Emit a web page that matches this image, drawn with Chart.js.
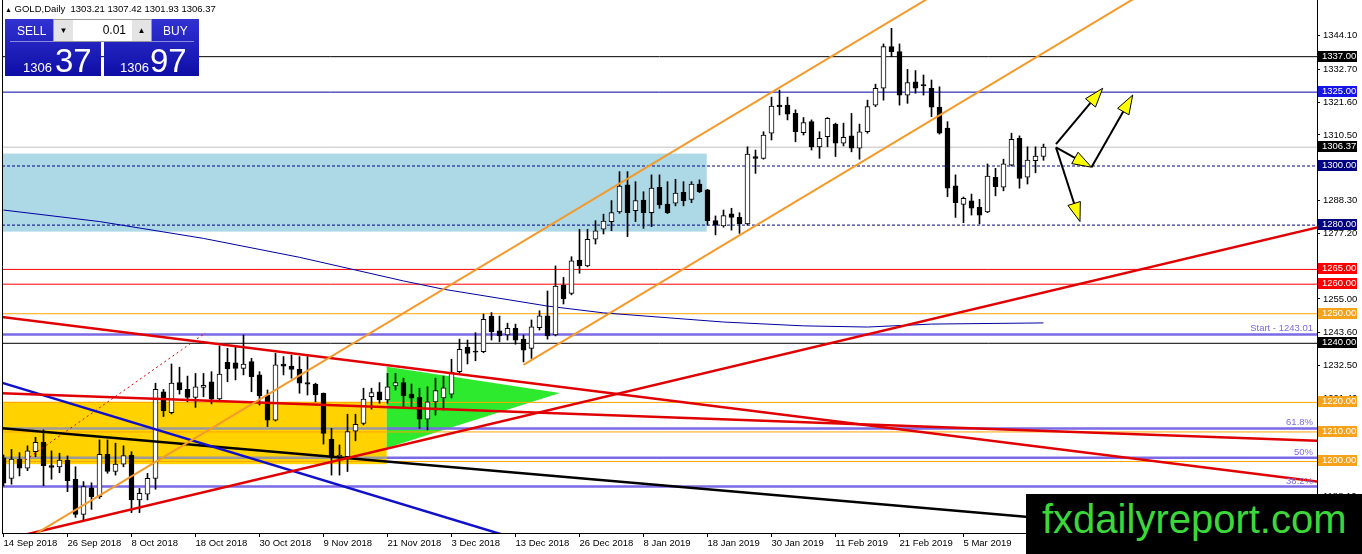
<!DOCTYPE html>
<html>
<head>
<meta charset="utf-8">
<title>GOLD, Daily</title>
<script src="https://cdn.jsdelivr.net/npm/chart.js@4.4.1/dist/chart.umd.min.js"></script>
<style>
  html, body { margin: 0; padding: 0; background: #fff; }
  #wrap { position: relative; width: 1362px; height: 554px; overflow: hidden; font-family: "Liberation Sans", Arial, sans-serif; }
  #chart { position: absolute; left: 0; top: 0; }
  .hdr { position: absolute; left: 5px; top: 3px; font-size: 9.5px; line-height: 12px; color: #000; white-space: pre; }
  .hdr .tri { font-size: 7px; }
  .tbox { position: absolute; top: 19px; width: 96px; height: 57px; background: linear-gradient(to bottom, #3232d2, #0e0ea6); color: #fff; }
  .tbox span { position: absolute; white-space: nowrap; }
  .tbox .lbl { font-size: 12px; line-height: 12px; top: 6px; }
  .tbox .sep { position: absolute; left: 5px; right: 5px; top: 22px; height: 1px; background: #8a8ae0; }
  .tbox .sm { font-size: 13px; line-height: 13px; top: 42px; }
  .tbox .big { font-size: 33px; line-height: 33px; top: 25px; }
  .lot { position: absolute; left: 53px; top: 19px; width: 97px; height: 21px; background: #fff; border: 1px solid #9a9a9a; font-size: 12px; }
  .lot .btn { position: absolute; top: 0; width: 19px; height: 21px; background: #e4e4e4; font-size: 8px; line-height: 21px; text-align: center; color: #000; }
  .lot .val { position: absolute; right: 25px; top: 4px; line-height: 13px; }
  .logo { position: absolute; left: 1026px; top: 494px; width: 336px; height: 60px; background: #000; }
  .logo span { position: absolute; left: 16px; top: 5px; font-size: 40px; line-height: 40px; color: #3cd83a; white-space: nowrap; }
</style>
</head>
<body>
<div id="wrap">
  <canvas id="chart" width="1362" height="554"></canvas>
  <div class="hdr"><span class="tri">▲</span> GOLD,Daily  1303.21 1307.42 1301.93 1306.37</div>
  <div class="tbox" style="left:5px">
    <span class="lbl" style="left:12px">SELL</span><div class="sep"></div>
    <span class="sm" style="left:18px">1306</span><span class="big" style="left:50px">37</span>
  </div>
  <div class="tbox" style="left:104px;width:95px">
    <span class="lbl" style="left:59px">BUY</span><div class="sep"></div>
    <span class="sm" style="left:16px">1306</span><span class="big" style="left:46px">97</span>
  </div>
  <div class="lot">
    <div class="btn" style="left:0">▼</div>
    <span class="val">0.01</span>
    <div class="btn" style="right:0">▲</div>
  </div>
  <div class="logo"><span>fxdailyreport.com</span></div>
</div>
<script>
// x axis labels (every 8th daily bar)
const xTickIdx = [0, 8, 16, 24, 32, 40, 48, 56, 64, 72, 80, 88, 96, 104, 112, 120];
const xTickLabels = ["14 Sep 2018", "26 Sep 2018", "8 Oct 2018", "18 Oct 2018", "30 Oct 2018", "9 Nov 2018",
  "21 Nov 2018", "3 Dec 2018", "13 Dec 2018", "26 Dec 2018", "8 Jan 2019", "18 Jan 2019", "30 Jan 2019",
  "11 Feb 2019", "21 Feb 2019", "5 Mar 2019"];
const priceTicks = [1344.10, 1332.70, 1321.60, 1310.50, 1299.40, 1288.30, 1277.20, 1266.10, 1255.00,
  1243.60, 1232.50, 1221.40, 1210.30, 1199.20, 1188.10];

// daily candles, 14 Sep 2018 .. 19 Mar 2019
const opens = [1201.2, 1194.3, 1200.8, 1197.7, 1203.3, 1206.5, 1198.6, 1198.2, 1200.5, 1194.0,
  1182.1, 1191.1, 1188.1, 1202.4, 1196.6, 1199.1, 1202.2, 1187.0, 1188.9, 1194.3,
  1223.6, 1216.5, 1226.7, 1224.4, 1221.7, 1225.1, 1227.0, 1221.2, 1233.6, 1233.4,
  1231.5, 1233.8, 1229.3, 1222.5, 1214.0, 1233.0, 1232.3, 1231.2, 1226.7, 1226.2,
  1223.1, 1207.5, 1201.4, 1201.6, 1210.3, 1212.9, 1221.9, 1223.6, 1220.8, 1225.6,
  1226.7, 1222.8, 1221.7, 1214.3, 1220.2, 1221.5, 1222.8, 1230.4, 1238.7, 1237.4,
  1237.2, 1249.2, 1244.2, 1242.8, 1245.1, 1241.4, 1238.3, 1245.3, 1249.3, 1242.8,
  1259.7, 1256.9, 1268.2, 1266.2, 1275.2, 1278.6, 1281.2, 1284.5, 1293.6, 1284.9,
  1288.5, 1284.2, 1292.8, 1287.1, 1287.4, 1291.1, 1288.7, 1293.9, 1291.9, 1281.5,
  1279.7, 1283.8, 1282.6, 1280.4, 1303.2, 1302.6, 1311.1, 1320.6, 1320.6, 1317.8,
  1311.3, 1315.0, 1306.5, 1309.9, 1314.2, 1307.7, 1310.2, 1306.0, 1311.6, 1320.6,
  1326.3, 1340.4, 1338.7, 1324.0, 1328.5, 1327.5, 1326.3, 1319.9, 1312.8, 1293.3,
  1287.0, 1288.2, 1286.0, 1284.5, 1296.2, 1292.8, 1300.3, 1309.4, 1296.2, 1301.8,
  1303.21];
const highs = [1202.2, 1204.1, 1203.0, 1205.3, 1208.2, 1210.7, 1203.6, 1202.8, 1201.9, 1198.2,
  1193.2, 1192.8, 1207.3, 1207.3, 1206.2, 1205.3, 1203.3, 1190.9, 1196.0, 1226.5,
  1224.4, 1233.0, 1231.9, 1228.9, 1229.8, 1229.8, 1230.4, 1239.1, 1238.3, 1238.9,
  1242.8, 1234.9, 1230.4, 1224.2, 1236.6, 1235.5, 1236.0, 1235.5, 1235.5, 1226.5,
  1223.2, 1211.2, 1205.6, 1216.0, 1216.0, 1224.8, 1224.8, 1226.7, 1229.8, 1229.8,
  1228.2, 1226.2, 1224.8, 1225.3, 1228.2, 1228.9, 1234.6, 1241.4, 1241.1, 1243.6,
  1249.9, 1250.4, 1249.2, 1246.8, 1246.5, 1242.8, 1247.9, 1251.0, 1257.7, 1266.2,
  1262.3, 1269.3, 1278.6, 1278.6, 1281.5, 1283.7, 1288.3, 1298.1, 1298.1, 1294.7,
  1291.3, 1297.0, 1297.0, 1294.7, 1295.5, 1294.7, 1294.7, 1295.3, 1292.1, 1283.1,
  1285.1, 1285.7, 1284.2, 1306.5, 1305.4, 1311.6, 1323.3, 1325.7, 1323.3, 1319.0,
  1316.4, 1315.6, 1311.6, 1316.4, 1314.5, 1314.5, 1317.8, 1314.2, 1322.3, 1327.7,
  1341.3, 1346.6, 1341.3, 1332.7, 1332.3, 1330.8, 1329.1, 1326.8, 1315.0, 1297.0,
  1289.5, 1290.5, 1288.7, 1300.7, 1299.2, 1302.3, 1311.1, 1310.2, 1306.5, 1306.5,
  1307.42];
const lows = [1191.7, 1192.3, 1195.1, 1196.9, 1201.6, 1191.8, 1194.0, 1196.2, 1189.8, 1181.1,
  1180.2, 1183.8, 1187.5, 1196.0, 1195.4, 1198.2, 1182.7, 1182.7, 1187.0, 1190.6,
  1215.2, 1216.1, 1222.8, 1220.2, 1218.3, 1221.9, 1219.5, 1220.8, 1227.0, 1227.6,
  1229.3, 1223.6, 1219.1, 1211.8, 1213.7, 1229.3, 1228.2, 1223.1, 1222.5, 1220.2,
  1205.9, 1195.4, 1195.4, 1196.6, 1207.0, 1212.4, 1217.7, 1219.7, 1219.7, 1224.2,
  1218.6, 1218.6, 1211.2, 1210.7, 1215.7, 1217.4, 1221.5, 1229.8, 1233.0, 1234.1,
  1236.8, 1241.1, 1240.5, 1241.1, 1239.7, 1233.7, 1234.9, 1244.5, 1241.4, 1242.5,
  1253.3, 1256.4, 1263.7, 1265.9, 1273.6, 1277.0, 1278.1, 1284.0, 1276.1, 1281.2,
  1278.9, 1279.5, 1285.7, 1283.9, 1286.5, 1286.5, 1287.6, 1291.0, 1280.0, 1276.7,
  1279.3, 1278.3, 1277.2, 1280.0, 1297.5, 1302.3, 1308.8, 1317.3, 1315.6, 1308.2,
  1310.5, 1305.4, 1302.6, 1306.5, 1303.2, 1306.8, 1304.8, 1302.3, 1311.1, 1320.1,
  1322.3, 1337.0, 1320.6, 1321.2, 1324.6, 1324.0, 1316.7, 1310.8, 1289.6, 1282.6,
  1280.8, 1283.4, 1280.4, 1284.2, 1289.9, 1291.6, 1300.0, 1292.5, 1293.9, 1297.7,
  1301.93];
const closes = [1192.7, 1200.8, 1197.7, 1203.6, 1206.5, 1198.6, 1198.0, 1200.5, 1193.5, 1182.1,
  1191.5, 1188.1, 1202.4, 1196.6, 1199.1, 1202.0, 1187.0, 1189.2, 1194.3, 1224.4,
  1217.2, 1226.5, 1224.2, 1221.7, 1225.3, 1225.8, 1221.1, 1229.6, 1231.3, 1231.5,
  1233.0, 1228.7, 1222.2, 1214.0, 1232.7, 1232.3, 1231.2, 1226.5, 1226.2, 1222.5,
  1209.5, 1201.6, 1202.2, 1210.1, 1212.6, 1221.1, 1223.3, 1220.8, 1225.3, 1226.7,
  1222.2, 1221.4, 1214.3, 1220.2, 1224.0, 1224.9, 1230.2, 1238.0, 1236.6, 1237.0,
  1248.1, 1243.9, 1242.5, 1245.1, 1241.1, 1237.7, 1245.6, 1249.3, 1242.5, 1259.4,
  1255.0, 1267.9, 1266.2, 1275.2, 1278.1, 1281.4, 1284.2, 1293.2, 1284.2, 1288.3,
  1284.2, 1292.5, 1286.8, 1284.2, 1290.8, 1288.3, 1293.9, 1291.3, 1281.5, 1280.0,
  1283.2, 1282.6, 1280.4, 1304.0, 1302.6, 1310.5, 1320.3, 1320.1, 1317.5, 1311.6,
  1314.7, 1306.5, 1309.4, 1316.1, 1307.7, 1309.7, 1306.0, 1311.6, 1320.1, 1326.3,
  1340.4, 1338.7, 1324.0, 1328.2, 1326.3, 1327.2, 1319.9, 1311.1, 1292.5, 1287.6,
  1289.1, 1285.7, 1283.4, 1296.6, 1293.0, 1300.7, 1309.0, 1295.8, 1302.0, 1303.4,
  1306.37];

// 200-day moving average, read at a few bars
const maIdx = [0, 12, 25, 37, 50, 55, 68, 75, 90, 100, 108, 116, 130];
const maVals = [1285.1, 1281.2, 1275.5, 1269.1, 1261.1, 1258.3, 1252.6, 1250.3, 1247.2, 1245.9, 1245.5, 1246.5, 1246.9];

// horizontal levels
const levelPrices = [1337, 1325, 1306.37, 1265, 1260, 1250, 1240, 1220, 1210, 1200];
const levelColors = ["#000000", "#0000a8", "#c0c0c0", "#ff0000", "#ff0000", "#ffa500", "#000000", "#ffa500", "#ffa500", "#ffa500"];
const dashedLevels = [1300, 1280];
const fibPrices = [1243.01, 1211.2, 1201.3, 1191.5];
const fibNames = ["Start - 1243.01", "61.8%", "50%", "38.2%"];
const axisTags = [1337, 1325, 1306.37, 1300, 1280, 1265, 1260, 1250, 1240, 1220, 1210, 1200];
const axisTagColors = ["#000", "#1515e6", "#000", "#000080", "#000080", "#f00", "#f00", "#f7a21b", "#000", "#f7a21b", "#f7a21b", "#f7a21b"];

// trend lines as [bar0, price0, bar1, price1]
const trendLines = [
  [0, 1169.0, 120, 1363.9],
  [65, 1232.7, 160, 1387.0],
  [-0.5, 1249.0, 164.5, 1193.1],
  [-0.5, 1223.1, 164.5, 1207.0],
  [0, 1173.5, 164.5, 1279.4],
  [-0.5, 1226.9, 70, 1169.0],
  [-0.5, 1211.3, 164.5, 1172.7]
];
const trendColors = ["#f39a2a", "#f39a2a", "#e00000", "#e00000", "#e00000", "#1010c8", "#000000"];
const dottedLine = [2.75, 1200.5, 25.25, 1243.5];

// zones: [bar0, bar1, priceLow, priceHigh]
const blueZone = [-1, 87.9, 1277.8, 1304.2];
const goldZone = [-1, 47.9, 1199.1, 1220.2];
const greenTriangle = [[47.9, 1232.1], [47.9, 1204.6], [69.56, 1223.2]];
// projection arrows [bar0, price0, bar1, price1]
const arrows = [
  [131.56, 1307.4, 137.4, 1326.3],
  [131.56, 1306.3, 134.56, 1281.2],
  [131.56, 1306.3, 136.0, 1299.6],
  [136.0, 1299.6, 141.15, 1324.0]
];

const xMin = -0.1875, xMax = 164.1875;
const yMin = 1175.8, yMax = 1356.18;
const FONT = '"Liberation Sans", Arial, sans-serif';

const bars = opens.map((_, i) => i);
const hline = (v, color, width, dash) => ({
  type: "line", data: [{ x: xMin, y: v }, { x: xMax, y: v }],
  borderColor: color, borderWidth: width, borderDash: dash || [], pointRadius: 0, order: 10
});

const datasets = [];
levelPrices.forEach((v, k) => datasets.push(hline(v, levelColors[k], 1)));
dashedLevels.forEach(v => datasets.push(hline(v, "#000080", 1, [3, 2])));
fibPrices.forEach(v => datasets.push({
  type: "line", data: [{ x: xMin, y: v }, { x: goldZone[1], y: v }, { x: xMax, y: v }],
  borderColor: "#7b6ae6", borderWidth: 2.5, pointRadius: 0, order: 10,
  segment: { borderColor: c => (c.p0DataIndex === 0 && v > goldZone[2] && v < goldZone[3]) ? "#9e9a9a" : undefined }
}));
datasets.push({
  type: "line", data: maIdx.map((v, k) => ({ x: v, y: maVals[k] })),
  borderColor: "#0000a0", borderWidth: 1, pointRadius: 0, order: 9
});
datasets.push({
  type: "bar", data: bars.map(i => ({ x: i, y: [lows[i], highs[i]] })),
  backgroundColor: "#000", borderWidth: 0, barThickness: 1, grouped: false, order: 2
});
datasets.push({
  type: "bar", data: bars.map(i => ({ x: i, y: [opens[i], closes[i]] })),
  backgroundColor: bars.map(i => closes[i] >= opens[i] ? "#fff" : "#000"),
  borderColor: "#000", borderWidth: 1, borderSkipped: false, barThickness: 5,
  minBarLength: 1, grouped: false, order: 1
});
trendLines.forEach((t, k) => datasets.push({
  type: "line", data: [{ x: t[0], y: t[1] }, { x: t[2], y: t[3] }],
  borderColor: trendColors[k], borderWidth: k < 2 ? 2 : 2.5, pointRadius: 0, order: 0
}));
datasets.push({
  type: "line", data: [{ x: dottedLine[0], y: dottedLine[1] }, { x: dottedLine[2], y: dottedLine[3] }],
  borderColor: "#e00000", borderWidth: 1, borderDash: [2, 3], pointRadius: 0, order: 0
});

function drawArrow(ctx, x0, y0, x1, y1) {
  const a = Math.atan2(y1 - y0, x1 - x0);
  const len = 19, half = 6.5;
  const bx = x1 - len * Math.cos(a), by = y1 - len * Math.sin(a);
  ctx.strokeStyle = "#000";
  ctx.lineWidth = 2;
  ctx.beginPath(); ctx.moveTo(x0, y0); ctx.lineTo(bx, by); ctx.stroke();
  ctx.beginPath();
  ctx.moveTo(x1, y1);
  ctx.lineTo(bx + half * Math.sin(a), by - half * Math.cos(a));
  ctx.lineTo(bx - half * Math.sin(a), by + half * Math.cos(a));
  ctx.closePath();
  ctx.fillStyle = "#ffff00"; ctx.fill();
  ctx.lineWidth = 1; ctx.stroke();
}

// zones, arrows, labels and axis tags drawn through the chart scales
const overlays = {
  id: "overlays",
  beforeDatasetsDraw(chart) {
    const { ctx, chartArea: a, scales: { x, y } } = chart;
    ctx.save();
    ctx.beginPath(); ctx.rect(a.left, a.top, a.right - a.left, a.bottom - a.top); ctx.clip();
    [[blueZone, "#add8e6"], [goldZone, "#ffd200"]].forEach(([z, c]) => {
      const l = x.getPixelForValue(z[0]), r = x.getPixelForValue(z[1]);
      const t = y.getPixelForValue(z[3]), b = y.getPixelForValue(z[2]);
      ctx.fillStyle = c;
      ctx.fillRect(l, t, r - l, b - t);
    });
    ctx.fillStyle = "#2eea2e";
    ctx.beginPath();
    greenTriangle.forEach(([i, p], k) => {
      const px = x.getPixelForValue(i), py = y.getPixelForValue(p);
      k ? ctx.lineTo(px, py) : ctx.moveTo(px, py);
    });
    ctx.closePath(); ctx.fill();
    ctx.restore();
  },
  afterDatasetsDraw(chart) {
    const { ctx, chartArea: a, scales: { x, y } } = chart;
    ctx.save();
    arrows.forEach(v => drawArrow(ctx, x.getPixelForValue(v[0]), y.getPixelForValue(v[1]),
      x.getPixelForValue(v[2]), y.getPixelForValue(v[3])));
    ctx.font = "9.5px " + FONT;
    ctx.fillStyle = "#7b6ae6";
    ctx.textAlign = "right";
    ctx.textBaseline = "alphabetic";
    fibPrices.forEach((p, k) => ctx.fillText(fibNames[k], a.right - 4, y.getPixelForValue(p) - 3));
    ctx.restore();
  },
  afterDraw(chart) {
    const { ctx, chartArea: a, scales: { y } } = chart;
    ctx.save();
    ctx.font = "9.5px " + FONT;
    ctx.textAlign = "left";
    ctx.textBaseline = "middle";
    axisTags.forEach((p, k) => {
      const py = Math.round(y.getPixelForValue(p)) - 1;
      ctx.fillStyle = axisTagColors[k];
      ctx.fillRect(a.right + 1, py - 5, 39, 11);
      ctx.fillStyle = "#fff";
      ctx.fillText(p.toFixed(2), a.right + 5, py + 0.5);
    });
    ctx.strokeStyle = "#000";
    ctx.lineWidth = 1;
    ctx.beginPath(); ctx.moveTo(a.left + 0.5, a.top); ctx.lineTo(a.left + 0.5, a.bottom); ctx.stroke();
    ctx.restore();
  }
};

Chart.defaults.font.family = FONT;
new Chart(document.getElementById("chart"), {
  type: "bar",
  data: { datasets },
  options: {
    responsive: false,
    animation: false,
    devicePixelRatio: 1,
    layout: { padding: { left: 2, top: 0, right: 0, bottom: 0 } },
    plugins: { legend: { display: false }, tooltip: { enabled: false } },
    scales: {
      x: {
        type: "linear", min: xMin, max: xMax, offset: false,
        afterBuildTicks: s => { s.ticks = xTickIdx.map(v => ({ value: v })); },
        afterFit: s => { s.height = 21; s.paddingLeft = 0; s.paddingRight = 0; },
        grid: { drawOnChartArea: false, drawTicks: true, tickLength: 4, color: "#000", offset: false },
        border: { display: true, color: "#000" },
        ticks: {
          autoSkip: false, maxRotation: 0, align: "start", padding: 1, color: "#000",
          font: { size: 9.5 }, callback: (v, k) => xTickLabels[k]
        }
      },
      y: {
        type: "linear", position: "right", min: yMin, max: yMax, beginAtZero: false,
        afterBuildTicks: s => { s.ticks = priceTicks.map(v => ({ value: v })); },
        afterFit: s => { s.width = 45; s.paddingTop = 0; s.paddingBottom = 0; },
        grid: { drawOnChartArea: false, drawTicks: true, tickLength: 3, color: "#000" },
        border: { display: true, color: "#000" },
        ticks: { padding: 3, color: "#000", font: { size: 9.5 }, callback: v => v.toFixed(2) }
      }
    }
  },
  plugins: [overlays]
});
</script>
</body>
</html>
